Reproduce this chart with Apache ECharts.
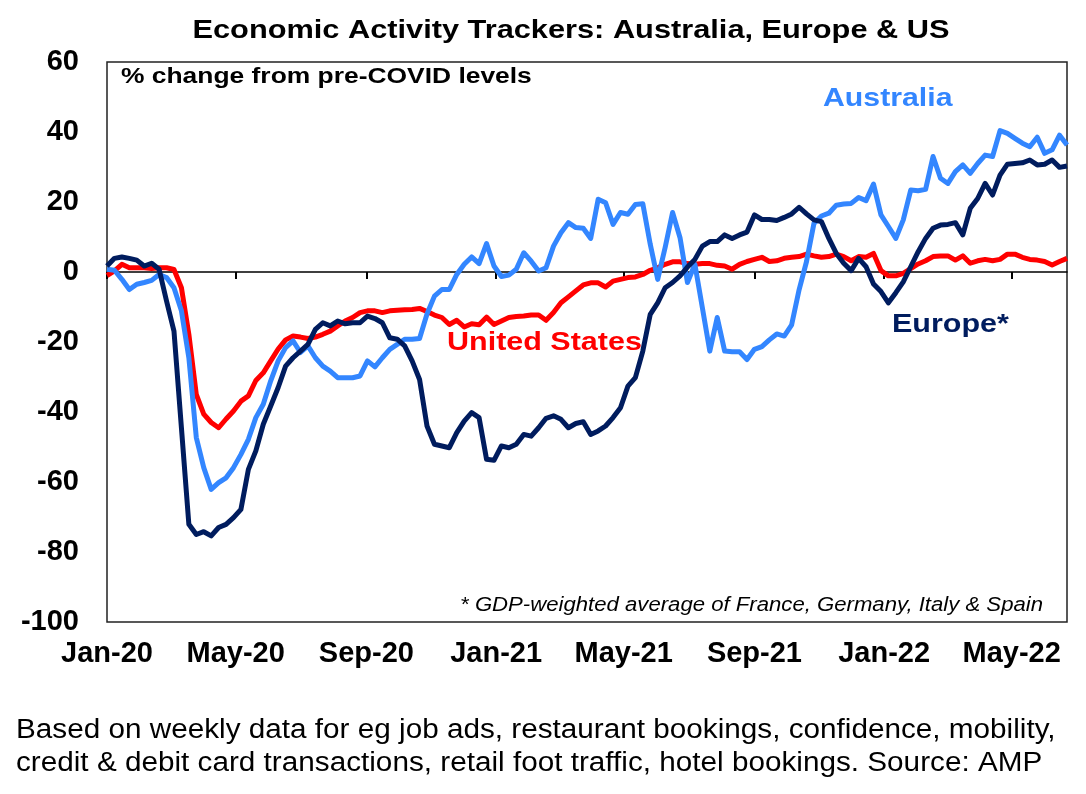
<!DOCTYPE html>
<html>
<head>
<meta charset="utf-8">
<title>Economic Activity Trackers</title>
<script src="https://cdn.jsdelivr.net/npm/echarts@6/dist/echarts.min.js"></script>
<style>
  html, body { margin: 0; padding: 0; background: #fff; }
  #chart { width: 1086px; height: 794px; }
</style>
</head>
<body>
<div id="chart"></div>
<script>
// weekly readings, first week = start of Jan 2020
const usData = [
    -1, 0.3, 2.2, 1.2, 1.2, 1.2, 1, 1.2, 1.2, 0.7,
    -4.5, -17.8, -35, -40.6, -43, -44.5, -42, -39.7, -36.9, -35.4,
    -31, -28.8, -25.4, -22, -19.4, -18.3, -18.6, -19, -18.6, -17.8,
    -16.9, -15.4, -14, -13, -11.6, -11.1, -11.1, -11.6, -11.1, -10.9,
    -10.8, -10.7, -10.4, -11.3, -12.3, -13, -15, -13.8, -15.7, -14.8,
    -15.1, -12.9, -15, -14, -13, -12.7, -12.6, -12.3, -12.3, -13.8,
    -11.6, -8.8, -7.1, -5.4, -3.7, -3.1, -3.1, -4.3, -2.6, -2.1,
    -1.6, -1.4, -0.7, 0.5, 1.2, 2.2, 2.9, 2.9, 2.4, 2.2,
    2.4, 2.4, 1.9, 1.7, 0.8, 2.2, 3, 3.6, 4.2, 3,
    3.2, 3.9, 4.2, 4.4, 5.1, 4.6, 4.2, 4.4, 5.1, 4.4,
    3.2, 4.4, 4.2, 5.3, 0.4, -1.1, -1.1, -0.4, 1, 2.3,
    3.2, 4.4, 4.6, 4.6, 3.4, 4.6, 2.5, 3.2, 3.6, 3.2,
    3.6, 5.1, 5.1, 4.2, 3.6, 3.4, 3, 2, 3, 3.9
]
const australiaData = [
    0.8, 0.5, -2.1, -5, -3.5, -3, -2.4, -0.7, -1.6, -4.5,
    -11.1, -24.5, -47.3, -55.9, -62.1, -60.2, -58.8, -55.9, -52.1, -47.8,
    -41.6, -37.8, -31.1, -25.4, -21.6, -19.7, -23, -21.1, -24.5, -26.9,
    -28.3, -30.2, -30.2, -30.2, -29.7, -25.4, -27.1, -24.5, -22.1, -20.7,
    -19.2, -19.2, -19, -12, -6.9, -5, -5, -0.7, 2.2, 4.3,
    2.4, 8.1, 1.7, -1.3, -0.9, 0.8, 5.5, 3.1, 0.3, 1.2,
    7.4, 11.2, 14.1, 12.7, 12.5, 9.6, 20.8, 19.8, 13.6, 17,
    16.5, 19.3, 19.5, 7.9, -2.1, 7, 17, 9.8, -3, 2.2,
    -10.2, -22.6, -13, -22.6, -22.8, -22.8, -25, -22.1, -21.3, -19.4,
    -17.7, -18.3, -15.1, -5.1, 3, 13.9, 16, 16.8, 19.1, 19.4,
    19.6, 21.3, 20.4, 25.1, 16.3, 13, 9.6, 14.9, 23.4, 23.2,
    23.6, 33, 26.8, 25.3, 28.7, 30.6, 28.2, 31, 33.4, 33,
    40.4, 39.6, 38.2, 36.8, 35.8, 38.5, 33.9, 34.9, 39.1, 36.3
]
const europeData = [
    1.7, 3.9, 4.3, 3.9, 3.4, 1.7, 2.5, 0.8, -8.3, -16.9,
    -44.5, -72.1, -75, -74.2, -75.4, -73, -72.1, -70.2, -67.8, -56.4,
    -51.1, -43.5, -38.3, -33, -26.9, -24.5, -22.6, -20.7, -16.4, -14.5,
    -15.4, -14, -14.8, -14.5, -14.5, -12.6, -13.3, -14.5, -18.8, -19.2,
    -21.1, -25.4, -30.7, -44, -49.2, -49.7, -50.2, -45.9, -42.6, -40.2,
    -41.6, -53.5, -53.8, -49.7, -50.2, -49.2, -46.4, -46.9, -44.5, -41.8,
    -41.1, -42.1, -44.5, -43.3, -42.8, -46.4, -45.4, -44, -41.6, -38.8,
    -32.6, -30.2, -22.6, -12.1, -8.8, -4.5, -3, -1.1, 1.4, 3.6,
    7.4, 8.7, 8.7, 10.6, 9.6, 10.6, 11.4, 16.3, 15, 15,
    14.7, 15.6, 16.6, 18.5, 16.6, 14.9, 14.4, 9.6, 5.3, 2.5,
    0.4, 3.9, 1.5, -3.4, -5.6, -8.8, -5.9, -2.8, 1.5, 5.8,
    9.6, 12.5, 13.4, 13.6, 14.1, 10.6, 18.2, 21, 25.3, 22,
    27.7, 30.8, 31, 31.2, 32, 30.6, 30.8, 32, 29.9, 30.3
]

// x axis tick labels and the months they sit on
const tickLabels = ['Jan-20', 'May-20', 'Sep-20', 'Jan-21', 'May-21', 'Sep-21', 'Jan-22', 'May-22']
const tickMonths = [[2020, 0], [2020, 4], [2020, 8], [2021, 0], [2021, 4], [2021, 8], [2022, 0], [2022, 4]]

const yMin = -100
const yMax = 60
const yStep = 20

const WEEK = 7 * 24 * 3600 * 1000
const startTime = Date.UTC(2020, 0, 1)
// position of each month start, counted in weeks
const tickPos = tickMonths.map(m => (Date.UTC(m[0], m[1], 1) - startTime) / WEEK)

const toPairs = function (arr) {
    return arr.map((v, i) => [i, v])
}

const FONT = '"Liberation Sans", Arial, Helvetica, sans-serif'
const BLACK = '#000'
const COLORS = {
    us: '#ff0000',
    australia: '#3386ff',
    europe: '#001c5e'
}

const labelFor = function (val) {
    let best = 0
    tickPos.forEach((p, i) => {
        if (Math.abs(p - val) < Math.abs(tickPos[best] - val)) best = i
    })
    return Math.abs(tickPos[best] - val) < 0.5 ? tickLabels[best] : ''
}

const lineSeries = function (name, data, color) {
    return {
        name: name,
        type: 'line',
        xAxisIndex: 0,
        yAxisIndex: 0,
        data: toPairs(data),
        showSymbol: false,
        symbol: 'none',
        smooth: false,
        lineStyle: { color: color, width: 5, join: 'round' },
        emphasis: { disabled: true },
        animation: false
    }
}

// the source picture is stretched sideways, so texts get a scaleX
const textEl = function (text, x, y, font, color, align, sx) {
    return {
        type: 'text',
        x: x,
        y: y,
        scaleX: sx || 1,
        silent: true,
        style: {
            text: text,
            font: font,
            fill: color,
            textAlign: align || 'left',
            textVerticalAlign: 'middle'
        }
    }
}

const lastX = usData.length - 1

const chart = echarts.init(document.getElementById('chart'), null, { renderer: 'canvas' })
chart.setOption({
    backgroundColor: '#fff',
    animation: false,
    grid: {
        left: 107,
        right: 19,
        top: 62,
        bottom: 172,
        show: true,
        borderColor: '#222',
        borderWidth: 1.5,
        containLabel: false
    },
    xAxis: [
        {
            // zero line with the month ticks
            type: 'value',
            position: 'bottom',
            min: 0,
            max: lastX,
            axisLine: { show: true, onZero: true, lineStyle: { color: BLACK, width: 1.5 } },
            axisTick: { show: true, length: 7, inside: false, customValues: tickPos, lineStyle: { color: BLACK, width: 2 } },
            axisLabel: { show: false },
            splitLine: { show: false }
        },
        {
            // labels along the bottom edge
            type: 'value',
            position: 'bottom',
            min: 0,
            max: lastX,
            axisLine: { show: false, onZero: false },
            axisTick: { show: false },
            axisLabel: {
                show: true,
                customValues: tickPos,
                formatter: labelFor,
                margin: 17,
                color: BLACK,
                fontFamily: FONT,
                fontWeight: 'bold',
                fontSize: 29
            },
            splitLine: { show: false }
        }
    ],
    yAxis: {
        type: 'value',
        min: yMin,
        max: yMax,
        interval: yStep,
        axisLine: { show: false },
        axisTick: { show: false },
        splitLine: { show: false },
        axisLabel: {
            margin: 28,
            color: BLACK,
            fontFamily: FONT,
            fontWeight: 'bold',
            fontSize: 29
        }
    },
    series: [
        lineSeries('United States', usData, COLORS.us),
        lineSeries('Australia', australiaData, COLORS.australia),
        lineSeries('Europe*', europeData, COLORS.europe)
    ],
    graphic: [
        textEl('Economic Activity Trackers: Australia, Europe & US', 571, 31, 'bold 25px ' + FONT, BLACK, 'center', 1.23),
        textEl('% change from pre-COVID levels', 121, 77, 'bold 22px ' + FONT, BLACK, 'left', 1.2),
        textEl('Australia', 823, 99, 'bold 25px ' + FONT, COLORS.australia, 'left', 1.21),
        textEl('United States', 447, 343, 'bold 25px ' + FONT, COLORS.us, 'left', 1.22),
        textEl('Europe*', 892, 325, 'bold 25px ' + FONT, COLORS.europe, 'left', 1.22),
        textEl('* GDP-weighted average of France, Germany, Italy & Spain', 1043, 605, 'italic 20px ' + FONT, BLACK, 'right', 1.107),
        textEl('Based on weekly data for eg job ads, restaurant bookings, confidence, mobility,', 16, 731, '27px ' + FONT, BLACK, 'left', 1.1),
        textEl('credit & debit card transactions, retail foot traffic, hotel bookings. Source: AMP', 16, 764, '27px ' + FONT, BLACK, 'left', 1.1)
    ]
})
</script>
</body>
</html>
